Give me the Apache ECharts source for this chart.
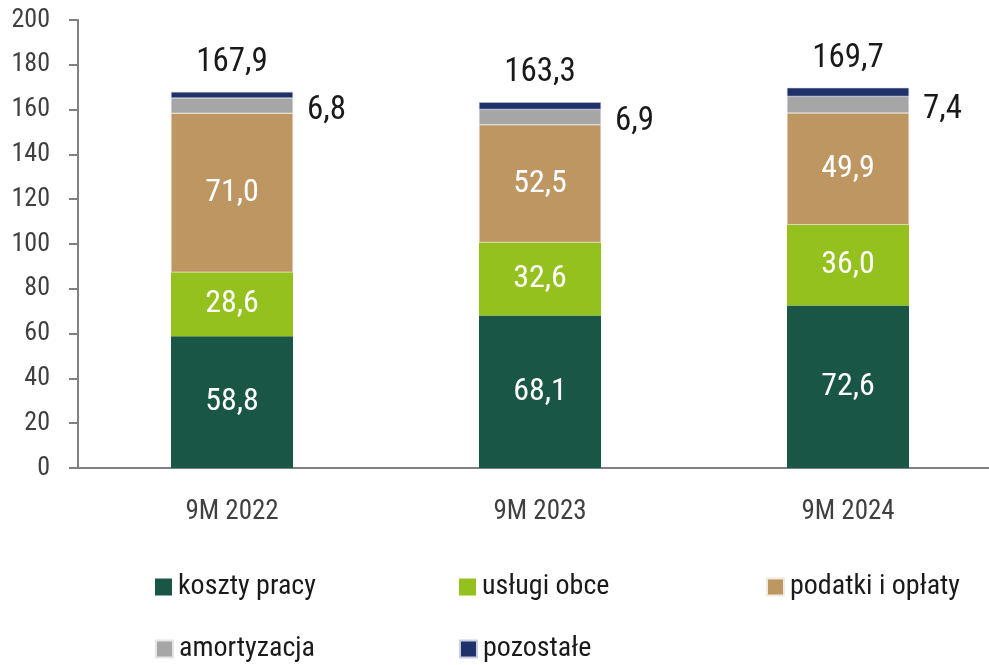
<!DOCTYPE html>
<html>
<head>
<meta charset="utf-8">
<script src="https://cdn.jsdelivr.net/npm/echarts@6/dist/echarts.min.js"></script>
<style>
    html,body{margin:0;padding:0;background:#fff;}
    #chart{width:989px;height:665px;}
</style>
</head>
<body>
<div id="chart"></div>
<script>
    var FONT = '"Roboto Condensed","Liberation Sans Narrow","DejaVu Sans Condensed",sans-serif';

    var categories = ['9M 2022', '9M 2023', '9M 2024'];
    var kosztyPracy = [58.8, 68.1, 72.6];
    var uslugiObce = [28.6, 32.6, 36.0];
    var podatki = [71.0, 52.5, 49.9];
    var amortyzacja = [6.8, 6.9, 7.4];
    var pozostale = [2.7, 3.2, 3.8];
    var totals = [167.9, 163.3, 169.7];
    var yTicks = [0, 200, 20];

    function fmt(v){ return v.toFixed(1).replace('.', ','); }

    var myChart = echarts.init(document.getElementById('chart'));

    var inside = {
        show: true,
        position: 'inside',
        color: '#ffffff',
        fontFamily: FONT,
        fontSize: 32,
        formatter: function(p){ return fmt(p.value); }
    };

    function legendItem(name, left, top){
        return {
            data: [name],
            left: left,
            top: top,
            padding: 0,
            icon: 'rect',
            itemWidth: 17,
            itemHeight: 17,
            itemGap: 9,
            textStyle: {fontFamily: FONT, fontSize: 28, color: '#1a1a1a', padding: [0, 0, 0, 1]}
        };
    }

    var option = {
        animation: false,
        grid: {left: 78, top: 20, width: 924, height: 448, outerBoundsMode: 'none', containLabel: false},
        legend: [
            legendItem('koszty pracy', 155, 573),
            legendItem('usługi obce', 459, 573),
            legendItem('podatki i opłaty', 766, 573),
            legendItem('amortyzacja', 155, 635),
            legendItem('pozostałe', 459, 635)
        ],
        xAxis: {
            type: 'category',
            data: categories,
            axisLine: {lineStyle: {color: '#808080', width: 2}},
            axisTick: {show: false},
            axisLabel: {color: '#404040', fontFamily: FONT, fontSize: 27, margin: 31}
        },
        yAxis: {
            type: 'value',
            min: yTicks[0],
            max: yTicks[1],
            interval: yTicks[2],
            splitLine: {show: false},
            axisLine: {show: true, lineStyle: {color: '#808080', width: 2}},
            axisTick: {show: true, length: 9, lineStyle: {color: '#808080', width: 2}},
            axisLabel: {color: '#404040', fontFamily: FONT, fontSize: 26, margin: 28}
        },
        series: [
            {
                name: 'koszty pracy', type: 'bar', stack: 's', barWidth: 122,
                itemStyle: {color: '#1a5645'},
                label: inside,
                data: kosztyPracy
            },
            {
                name: 'usługi obce', type: 'bar', stack: 's',
                itemStyle: {color: '#95c11f'},
                label: inside,
                data: uslugiObce
            },
            {
                name: 'podatki i opłaty', type: 'bar', stack: 's',
                itemStyle: {color: '#be9662', borderColor: '#f2eadf', borderWidth: 0.5},
                label: inside,
                data: podatki
            },
            {
                name: 'amortyzacja', type: 'bar', stack: 's',
                itemStyle: {color: '#a6a6a6', borderColor: '#e6e6e6', borderWidth: 0.5},
                label: {
                    show: true, position: 'right', distance: 14, offset: [0, 5],
                    color: '#1a1a1a', fontFamily: FONT, fontSize: 33,
                    formatter: function(p){ return fmt(p.value); }
                },
                data: amortyzacja
            },
            {
                name: 'pozostałe', type: 'bar', stack: 's',
                itemStyle: {color: '#1f3169', borderColor: '#c8cde0', borderWidth: 0.5},
                label: {
                    show: true, position: 'top', distance: 13,
                    color: '#1a1a1a', fontFamily: FONT, fontSize: 33,
                    formatter: function(p){ return fmt(totals[p.dataIndex]); }
                },
                data: pozostale
            }
        ]
    };

    myChart.setOption(option);
</script>
</body>
</html>
